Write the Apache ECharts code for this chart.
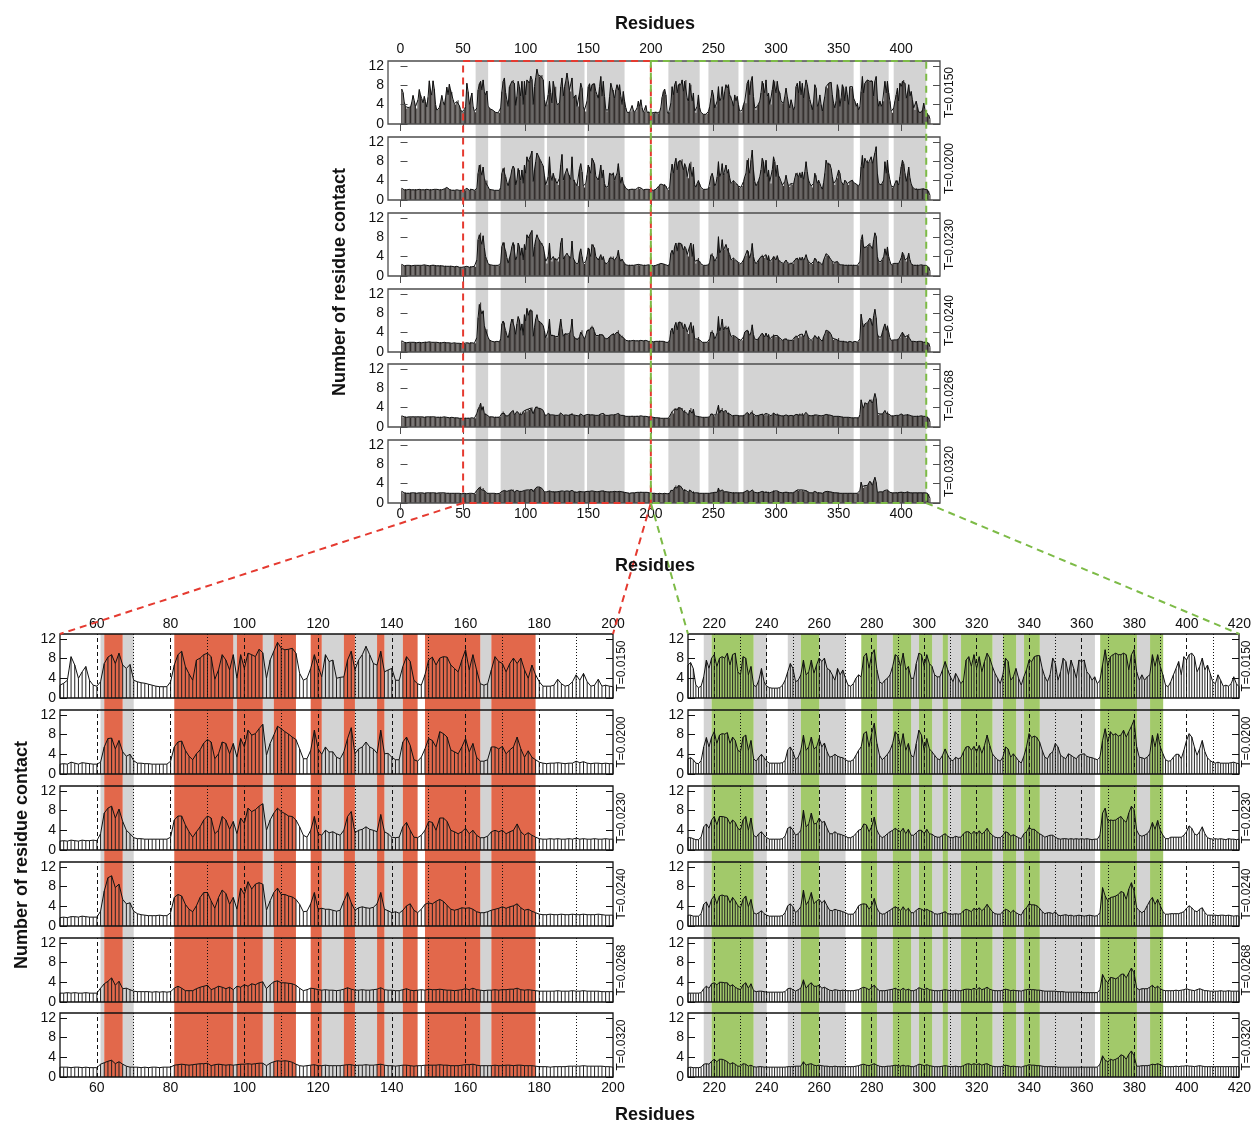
<!DOCTYPE html>
<html>
<head>
<meta charset="utf-8">
<script src="https://cdn.jsdelivr.net/npm/echarts@6/dist/echarts.min.js"></script>
<style>
  html, body { margin: 0; padding: 0; background: #fff; }
  #main { width: 1254px; height: 1124px; }
</style>
</head>
<body>
<div id="main"></div>
<script>
// contacts per residue, residues 1..423, one array per temperature
const t0150 = [
  7.2,6.5,4.5,3.6,3.2,3.4,3.3,3.5,4.5,5.9, 4.8,3.6,3.2,5.0,7.1,6.0,5.2,4.3,5.7,4.6,
  3.5,5.5,8.9,7.0,5.9,8.9,7.2,4.0,2.8,3.0, 3.4,4.5,5.9,4.6,3.9,5.5,7.6,6.0,8.2,7.0,
  6.6,5.0,4.2,4.0,4.6,4.9,3.8,3.0,2.5,2.6, 3.0,3.6,8.4,6.7,4.0,5.3,6.4,3.6,2.6,2.4,
  3.3,7.0,8.3,8.8,7.0,9.1,6.7,6.0,6.8,3.6, 3.3,3.1,3.0,2.8,2.6,2.4,2.3,2.3,2.3,3.3,
  6.7,8.8,9.5,6.4,4.9,3.6,7.7,8.1,8.8,9.1, 8.4,3.8,5.7,8.8,7.7,5.7,8.8,4.0,8.8,6.0,
  9.1,8.8,8.4,9.9,9.2,4.0,7.7,9.5,11.3,10.1, 9.8,9.9,10.1,9.1,5.0,3.6,4.0,6.0,8.8,6.4,
  4.3,8.8,7.4,7.7,4.0,4.2,4.3,7.7,9.5,5.7, 7.7,8.8,10.5,8.8,7.0,6.7,9.5,5.3,5.7,6.0,
  3.6,3.6,6.4,8.4,7.4,3.6,2.9,2.6,4.7,7.7, 8.3,6.7,8.1,8.4,8.3,6.7,6.0,5.3,7.7,9.8,
  5.7,8.8,5.7,2.9,2.6,2.9,5.7,8.4,7.4,7.0, 5.3,7.0,8.1,7.0,8.1,5.7,4.0,6.7,4.7,3.3,
  2.4,2.4,2.4,2.6,3.8,2.9,2.4,2.6,3.3,4.7, 3.6,5.0,3.3,2.4,2.6,3.8,2.4,2.6,2.4,2.3,
  2.3,2.2,2.4,2.6,2.3,2.2,2.5,3.4,5.5,6.7, 7.2,6.0,2.6,2.1,2.4,4.3,7.7,6.0,8.1,8.8,
  6.4,8.1,8.4,8.1,9.1,6.7,8.8,9.1,5.3,4.7, 8.4,8.1,4.7,6.4,2.6,2.3,3.6,6.0,3.3,2.4,
  2.1,2.0,2.0,2.0,2.1,2.6,3.6,5.3,7.0,6.0, 3.3,3.6,4.7,7.7,4.7,5.3,7.7,5.0,6.7,8.1,
  7.4,8.1,6.0,5.7,4.7,3.6,6.0,4.7,5.7,4.0, 2.6,2.4,2.9,4.0,4.7,4.3,8.4,9.1,6.0,8.8,
  9.8,5.7,3.3,2.9,3.6,4.0,4.7,6.4,8.8,8.4, 6.4,9.1,5.7,6.4,4.0,4.0,7.0,9.1,8.8,6.4,
  8.8,7.0,6.4,4.7,4.3,4.3,5.7,7.4,5.7,4.3, 3.3,5.0,4.0,2.9,3.6,7.7,8.4,6.4,8.8,6.0,
  8.4,5.3,7.4,9.1,8.1,6.4,5.0,4.0,2.9,4.7, 8.1,7.4,3.6,4.3,6.0,4.0,2.6,4.3,5.7,7.7,
  7.4,8.4,8.6,8.6,6.0,4.3,3.3,4.7,8.1,7.0, 3.6,5.3,8.1,7.4,4.7,7.7,6.0,4.0,7.7,7.4,
  7.7,5.3,4.7,3.6,4.3,2.9,3.6,6.7,9.8,6.4, 8.4,8.8,9.1,8.8,8.8,9.1,8.8,5.7,8.8,9.8,
  5.3,3.6,4.7,3.6,4.3,4.7,8.8,6.4,8.8,6.4, 4.7,2.6,2.3,3.3,4.7,6.0,7.4,4.7,8.4,7.7,
  8.8,9.1,8.4,5.3,6.4,8.1,5.7,6.7,5.0,3.3, 2.9,4.7,3.6,2.4,2.6,2.4,2.9,4.3,2.9,2.3,
  2.2,1.8,1.0
];
const t0200 = [
  2.4,2.1,2.1,2.2,2.1,2.1,2.2,2.1,2.1,2.2, 2.1,2.2,2.1,2.1,2.2,2.1,2.1,2.2,2.1,2.1,
  2.2,2.1,2.1,2.2,2.1,2.1,2.2,2.1,2.2,2.1, 2.1,2.2,2.1,2.2,2.3,2.4,2.6,2.4,2.2,2.1,
  2.0,2.1,2.0,2.0,2.1,2.0,2.0,2.0,2.0,2.0, 2.1,2.0,2.4,2.2,2.0,2.3,2.2,2.1,2.0,2.0,
  2.4,5.5,7.2,7.3,5.1,6.8,4.5,3.6,4.0,2.7, 2.2,2.2,2.1,2.1,2.0,2.0,2.0,2.0,2.0,2.6,
  5.5,6.5,6.7,4.8,3.6,2.9,4.1,4.9,6.3,7.0, 6.5,3.1,4.1,6.5,6.2,4.1,6.2,3.4,7.2,5.5,
  8.9,7.9,8.2,9.2,10.1,3.8,6.2,7.9,9.7,9.2, 8.6,8.1,7.5,7.0,5.1,3.1,3.1,4.8,8.9,5.1,
  4.0,5.5,4.5,4.5,3.4,3.1,4.5,7.2,9.4,4.1, 5.1,5.5,6.5,5.5,5.1,4.2,8.9,4.1,4.2,3.4,
  2.9,2.9,6.5,7.5,5.8,2.9,2.6,3.4,5.1,7.2, 6.8,5.5,8.6,8.2,7.5,4.9,4.5,4.1,5.5,7.2,
  4.5,6.2,3.4,2.6,2.6,2.9,5.5,5.5,5.1,5.6, 4.1,4.9,5.5,7.5,5.1,3.4,4.7,3.4,2.9,2.4,
  2.2,2.1,2.2,2.2,2.3,2.2,2.1,2.2,2.2,2.6, 2.3,2.5,2.2,2.1,2.2,2.2,2.1,2.2,2.1,2.1,
  2.0,2.0,2.1,2.2,2.4,2.8,3.2,3.3,3.1,3.1, 3.3,2.9,2.2,2.1,2.7,5.5,7.4,5.5,7.5,8.6,
  6.2,7.9,8.2,8.1,8.4,6.2,7.5,6.8,4.8,4.5, 7.5,7.9,4.8,6.8,3.1,2.6,3.4,4.0,3.3,2.6,
  2.2,2.2,2.2,2.2,2.2,2.3,2.7,4.9,5.5,4.5, 2.9,3.4,4.8,7.9,4.8,5.5,7.5,5.1,5.5,7.2,
  5.5,6.3,4.5,3.4,3.6,4.0,3.6,3.4,3.3,2.9, 2.6,2.6,2.9,3.8,4.8,5.5,8.2,8.6,5.5,8.2,
  10.3,6.2,3.8,2.9,3.4,4.0,4.8,6.2,8.6,7.9, 5.5,8.2,4.8,6.2,3.8,3.4,6.2,8.9,7.9,4.8,
  7.2,5.1,4.5,3.8,3.1,2.9,3.8,5.1,3.8,2.9, 2.7,3.4,3.1,3.3,4.5,5.5,5.6,4.8,5.6,4.5,
  5.8,4.2,5.8,7.9,5.8,4.1,3.4,2.9,2.6,3.4, 5.5,5.1,3.4,4.1,3.4,2.7,2.2,3.6,5.5,8.2,
  7.4,7.7,7.4,6.5,4.8,3.4,3.1,4.1,4.5,6.2, 5.5,3.8,3.4,3.1,4.1,3.8,3.4,3.1,3.8,4.0,
  4.1,3.6,3.4,3.3,3.1,2.9,3.4,6.8,9.2,6.5, 8.6,7.9,8.2,7.7,7.9,8.9,7.5,8.6,9.7,11.0,
  5.5,3.4,3.3,3.1,3.4,4.1,7.9,5.5,8.2,5.5, 4.1,2.9,2.6,2.7,3.4,4.0,4.0,3.1,4.8,6.8,
  8.2,7.5,5.5,3.8,5.1,6.8,4.5,3.3,2.7,2.4, 2.2,2.4,2.2,2.2,2.2,2.2,2.3,2.4,2.2,2.1,
  2.1,1.8,1.0
];
const t0230 = [
  2.4,2.1,2.1,2.2,2.2,2.1,2.2,2.2,2.1,2.2, 2.2,2.1,2.2,2.2,2.2,2.1,2.2,2.2,2.3,2.2,
  2.2,2.2,2.1,2.2,2.2,2.3,2.2,2.2,2.1,2.2, 2.1,2.2,2.1,2.1,2.0,2.1,2.0,2.0,2.0,2.1,
  2.0,1.9,1.9,1.9,2.0,1.9,1.8,1.8,1.8,1.8, 1.9,1.8,2.0,1.9,1.8,2.0,1.9,1.9,2.0,1.9,
  3.3,7.5,8.5,8.9,6.5,8.3,5.8,4.0,3.3,2.5, 2.3,2.3,2.2,2.2,2.2,2.2,2.2,2.2,2.2,2.6,
  6.1,6.9,6.9,5.1,3.7,2.6,3.7,4.7,6.1,6.9, 6.5,3.3,4.0,6.8,6.1,4.2,5.8,3.3,6.5,5.4,
  8.5,7.8,8.2,8.9,9.4,4.0,6.1,7.5,8.5,7.8, 7.4,6.9,6.8,6.1,4.7,3.0,2.6,4.0,6.8,3.3,
  3.0,4.0,3.5,3.7,3.3,3.0,4.0,6.8,7.8,3.5, 4.0,4.2,4.7,4.2,4.0,3.7,7.2,3.7,3.3,2.6,
  2.5,2.6,4.7,5.6,4.0,2.6,2.5,3.0,4.0,5.8, 5.6,4.0,6.5,6.5,5.8,4.0,3.7,3.3,3.7,4.4,
  3.3,4.0,3.0,2.5,2.5,2.8,3.7,4.0,3.7,4.0, 3.3,3.7,4.0,5.3,3.7,3.0,3.5,3.0,2.6,2.3,
  2.2,2.2,2.3,2.2,2.3,2.2,2.2,2.3,2.2,2.4, 2.2,2.3,2.2,2.2,2.3,2.2,2.2,2.3,2.2,2.2,
  2.1,2.1,2.2,2.2,2.3,2.4,2.5,2.6,2.5,2.5, 2.5,2.3,2.1,2.1,2.6,4.7,5.3,4.4,6.1,6.8,
  5.1,6.8,6.8,6.7,6.5,5.3,6.1,5.6,4.4,4.0, 6.1,6.8,4.0,6.5,3.0,2.6,3.3,3.7,3.0,2.5,
  2.2,2.2,2.2,2.2,2.2,2.3,2.8,4.4,4.7,4.0, 3.0,3.3,4.0,8.1,4.7,5.3,7.5,5.3,5.4,6.5,
  5.6,5.8,4.4,3.3,3.3,3.7,3.3,3.2,3.0,2.8, 2.5,2.5,2.8,3.3,4.0,4.2,5.3,5.1,3.7,4.7,
  6.7,4.0,3.0,2.5,2.8,3.3,3.7,4.0,4.4,4.0, 3.7,4.4,3.3,4.2,3.0,3.0,3.5,4.0,4.0,3.3,
  4.2,3.3,3.2,2.8,2.6,2.6,3.0,3.3,2.8,2.5, 2.5,2.8,2.6,2.6,3.3,3.7,3.7,3.2,3.8,3.2,
  3.9,3.2,3.7,4.4,3.5,3.0,2.6,2.5,2.5,3.0, 3.7,3.5,2.8,3.1,2.8,2.5,2.3,3.3,3.7,4.6,
  4.2,4.2,3.7,3.3,3.0,2.6,2.8,3.0,3.0,2.6, 2.3,2.2,2.3,2.3,2.2,2.3,2.2,2.3,2.2,2.3,
  2.2,2.3,2.2,2.1,2.2,2.2,3.0,7.5,8.5,5.8, 6.1,6.0,6.1,6.5,6.8,6.1,5.6,7.5,8.9,8.2,
  4.0,3.0,2.8,3.0,3.3,4.0,5.6,4.2,6.0,4.0, 3.0,2.3,2.3,2.6,2.6,2.6,2.6,2.6,3.0,3.7,
  4.9,4.4,3.3,3.0,3.7,4.7,3.3,2.5,2.3,2.2, 2.3,2.2,2.3,2.2,2.1,2.3,2.2,2.2,2.1,2.2,
  2.0,1.8,1.0
];
const t0240 = [
  2.3,1.9,2.0,2.0,1.9,2.0,2.0,1.9,2.0,2.0, 2.0,2.0,1.9,2.0,2.0,2.0,1.9,2.0,2.0,2.1,
  2.0,2.0,2.1,2.0,2.0,2.0,2.0,1.9,2.0,2.0, 1.9,2.0,1.9,1.9,2.0,1.9,1.9,1.9,1.9,1.8,
  1.8,1.8,1.9,1.8,1.8,1.8,1.8,1.7,1.7,1.7, 1.8,1.7,1.9,1.9,1.8,2.0,1.9,1.8,1.8,1.8,
  3.0,7.1,9.8,10.2,7.8,8.5,5.4,4.5,4.7,3.0, 2.5,2.3,2.2,2.1,2.1,2.1,2.2,2.1,2.1,2.7,
  5.8,6.4,6.1,4.4,3.4,2.9,4.1,5.8,6.8,6.8, 5.1,3.6,5.8,7.3,6.6,4.4,5.8,3.4,7.7,6.4,
  9.0,7.5,8.5,8.8,8.5,3.2,5.1,6.8,7.7,6.4, 6.4,6.1,5.9,5.4,4.4,2.9,3.0,4.5,6.8,3.4,
  3.6,3.4,3.4,3.2,3.0,3.2,5.1,6.8,4.7,3.2, 3.7,3.9,3.7,3.6,3.8,4.5,6.8,3.4,3.1,2.7,
  2.9,2.6,3.2,4.1,4.5,3.2,2.7,3.4,4.4,4.7, 4.5,5.0,5.4,5.0,4.2,3.4,3.2,3.4,3.7,3.6,
  3.7,3.4,2.9,2.7,2.7,2.9,3.2,3.4,3.6,3.9, 3.6,3.9,4.1,4.5,3.7,3.2,3.4,3.0,2.7,2.4,
  2.3,2.3,2.4,2.3,2.3,2.4,2.3,2.3,2.4,2.3, 2.3,2.4,2.3,2.3,2.3,2.4,2.3,2.2,2.2,2.2,
  2.1,2.1,2.1,2.2,2.2,2.2,2.3,2.2,2.2,2.2, 2.2,2.0,2.0,2.0,2.5,4.4,4.9,3.7,5.4,6.1,
  4.5,6.1,6.3,6.1,6.1,4.7,5.8,5.1,4.1,3.7, 5.4,6.1,3.9,5.4,2.7,2.4,2.7,3.1,2.5,2.2,
  2.0,2.0,2.0,2.0,2.0,2.1,2.7,4.1,4.5,3.9, 2.7,3.2,3.9,7.3,4.3,5.1,6.8,4.5,5.1,5.4,
  4.7,5.2,4.1,3.2,3.1,3.4,3.2,3.1,2.9,2.7, 2.4,2.4,2.4,3.1,4.1,4.4,4.5,4.4,3.4,4.1,
  5.6,3.6,2.7,2.4,2.5,2.9,3.2,3.6,3.9,3.6, 3.1,3.9,3.1,3.6,2.7,2.7,3.2,3.6,3.4,3.1,
  3.4,3.1,2.9,2.5,2.4,2.5,2.7,2.9,2.5,2.4, 2.4,2.5,2.4,2.5,3.1,3.4,3.2,2.9,3.6,3.2,
  3.7,3.1,3.6,4.4,3.6,2.9,2.5,2.4,2.4,2.9, 3.4,3.2,2.7,3.2,2.7,2.4,2.2,3.2,3.7,4.5,
  4.3,4.3,4.1,3.6,2.9,2.5,2.7,2.7,2.5,2.9, 2.2,2.1,2.2,2.3,2.1,2.2,2.0,2.1,2.2,2.1,
  2.0,2.1,2.2,2.1,2.0,2.1,2.7,7.8,6.1,5.1, 5.8,5.9,6.1,6.4,7.0,6.8,5.4,7.5,8.8,7.1,
  3.7,3.1,2.7,3.1,4.1,5.1,5.8,4.4,5.4,4.1, 2.9,2.4,2.4,2.5,2.5,2.5,2.5,2.7,2.9,3.6,
  4.1,3.7,3.1,2.9,3.4,3.7,2.7,2.2,2.2,2.2, 2.2,2.1,2.2,2.2,2.1,2.2,2.1,2.0,2.1,2.0,
  2.0,1.8,1.0
];
const t0268 = [
  2.3,2.0,2.1,2.1,2.0,2.1,2.1,2.0,2.1,2.1, 2.1,2.0,2.1,2.1,2.1,2.0,2.1,2.1,2.0,2.1,
  2.1,2.0,2.1,2.1,2.1,2.0,2.1,2.0,2.0,2.1, 2.0,2.1,2.0,2.0,2.1,2.0,2.0,2.0,1.9,2.0,
  2.0,1.9,1.9,1.9,1.9,1.9,1.8,1.8,1.8,1.8, 1.8,1.9,1.8,1.9,1.8,1.8,1.9,1.8,1.8,1.8,
  2.8,3.7,4.2,4.9,3.4,4.2,2.7,2.8,2.5,2.2, 2.1,2.1,2.1,2.1,2.0,2.1,2.0,2.1,2.0,2.1,
  2.8,3.2,2.8,2.3,2.3,2.3,2.7,3.0,3.2,3.4, 2.5,2.8,3.2,3.0,2.7,3.0,2.5,3.2,3.0,3.5,
  3.2,3.7,3.5,3.9,4.1,2.7,3.5,4.1,4.3,3.9, 3.9,3.8,3.7,3.4,2.8,2.3,2.5,2.8,2.7,2.5,
  2.4,2.5,2.4,2.4,2.3,2.4,2.6,2.9,2.6,2.4, 2.4,2.5,2.4,2.4,2.5,2.6,2.9,2.5,2.4,2.4,
  2.3,2.3,2.5,2.7,2.4,2.3,2.4,2.5,2.4,2.6, 2.5,2.5,2.6,2.5,2.4,2.4,2.3,2.4,2.5,2.7,
  2.5,2.8,2.5,2.4,2.3,2.4,2.4,2.5,2.4,2.5, 2.5,2.6,2.6,2.8,2.5,2.4,2.5,2.4,2.3,2.2,
  2.2,2.2,2.2,2.2,2.3,2.2,2.2,2.2,2.3,2.2, 2.2,2.3,2.2,2.2,2.2,2.2,2.1,2.1,2.1,2.1,
  2.0,2.0,2.0,1.9,1.9,1.9,1.9,1.8,1.8,1.8, 1.8,1.8,1.8,1.8,1.9,2.7,3.2,2.8,3.7,3.9,
  3.5,4.0,4.0,3.9,3.9,3.2,3.5,3.0,2.7,2.5, 3.5,3.9,2.8,3.7,2.3,2.1,2.2,2.2,2.1,2.0,
  2.0,2.0,2.0,2.0,2.0,2.0,2.1,2.7,2.8,2.5, 2.2,2.5,2.8,4.5,2.8,3.5,3.9,3.2,3.2,3.4,
  2.8,3.0,2.7,2.4,2.3,2.5,2.4,2.3,2.4,2.3, 2.3,2.3,2.3,2.4,2.5,2.8,3.0,2.8,2.5,3.0,
  3.4,2.7,2.3,2.3,2.3,2.4,2.5,2.6,2.8,2.5, 2.4,2.8,2.4,2.6,2.3,2.3,2.5,2.9,2.7,2.5,
  2.8,2.5,2.4,2.3,2.3,2.3,2.4,2.5,2.4,2.3, 2.3,2.4,2.3,2.3,2.5,2.6,2.6,2.5,2.8,2.5,
  2.9,2.5,2.7,3.0,2.6,2.4,2.3,2.3,2.3,2.4, 2.6,2.5,2.3,2.4,2.3,2.3,2.2,2.4,2.5,2.6,
  2.5,2.5,2.4,2.4,2.3,2.2,2.2,2.2,2.2,2.2, 2.1,2.1,2.1,2.0,2.0,2.0,2.0,2.0,2.0,1.9,
  1.9,1.9,1.9,1.9,1.9,1.9,2.5,5.6,4.5,3.9, 5.0,4.9,4.7,5.0,5.6,5.7,4.9,5.9,6.9,5.9,
  2.8,2.5,2.7,2.7,2.7,3.0,3.4,2.8,3.2,2.7, 2.4,2.3,2.3,2.3,2.3,2.4,2.3,2.4,2.5,2.7,
  2.5,2.4,2.3,2.5,2.7,2.5,2.3,2.3,2.2,2.2, 2.2,2.2,2.3,2.2,2.2,2.3,2.2,2.2,2.2,2.2,
  2.1,1.8,1.0
];
const t0320 = [
  2.4,2.0,2.1,2.1,2.0,2.1,2.0,2.1,2.1,2.0, 2.1,2.1,2.0,2.1,2.1,2.0,2.1,2.1,2.0,2.1,
  2.1,2.0,2.1,2.1,2.1,2.0,2.1,2.1,2.0,2.1, 2.1,2.0,2.1,2.0,2.1,2.0,2.0,2.1,2.0,2.0,
  2.0,2.0,2.0,2.0,2.0,1.9,2.0,1.9,1.9,2.0, 2.0,2.0,1.9,2.0,2.0,1.9,2.0,1.9,1.9,1.9,
  2.6,2.9,3.2,3.4,2.7,3.1,2.6,2.2,2.0,2.0, 2.0,1.9,2.0,1.9,2.0,2.0,1.9,2.0,2.0,2.0,
  2.4,2.5,2.6,2.5,2.4,2.5,2.6,2.7,2.7,2.8, 2.3,2.5,2.6,2.5,2.4,2.5,2.4,2.5,2.6,2.6,
  2.7,2.6,2.7,2.8,2.8,2.3,2.8,3.1,3.3,3.2, 3.3,3.2,3.0,2.6,2.3,2.2,2.3,2.4,2.5,2.3,
  2.3,2.4,2.3,2.3,2.3,2.3,2.4,2.5,2.5,2.3, 2.4,2.4,2.5,2.4,2.4,2.5,2.6,2.4,2.3,2.3,
  2.2,2.3,2.4,2.4,2.3,2.2,2.3,2.3,2.4,2.4, 2.4,2.4,2.5,2.4,2.4,2.3,2.3,2.3,2.4,2.5,
  2.5,2.6,2.4,2.3,2.3,2.3,2.3,2.4,2.3,2.3, 2.4,2.4,2.3,2.4,2.4,2.3,2.3,2.3,2.2,2.1,
  2.1,2.1,2.0,2.1,2.1,2.1,2.1,2.2,2.2,2.2, 2.2,2.3,2.2,2.2,2.2,2.2,2.2,2.1,2.1,2.0,
  2.0,2.0,2.0,1.9,1.9,1.9,2.0,1.9,1.9,1.9, 2.0,1.9,1.9,1.9,2.0,2.6,2.7,2.6,3.2,3.6,
  3.1,3.6,3.6,3.4,3.1,2.6,2.9,2.6,2.2,2.2, 2.7,2.6,2.2,2.4,2.1,2.0,2.1,2.1,2.0,2.0,
  2.0,2.0,2.0,2.0,2.0,2.0,2.0,2.1,2.1,2.1, 2.2,2.2,2.2,3.1,2.4,2.6,2.7,2.4,2.3,2.4,
  2.3,2.2,2.2,2.1,2.1,2.2,2.1,2.1,2.1,2.1, 2.1,2.1,2.1,2.2,2.3,2.5,2.6,2.4,2.3,2.5,
  2.7,2.4,2.2,2.1,2.1,2.2,2.2,2.3,2.4,2.3, 2.2,2.4,2.2,2.3,2.1,2.1,2.3,2.6,2.5,2.3,
  2.5,2.3,2.2,2.1,2.1,2.1,2.2,2.3,2.2,2.1, 2.1,2.2,2.1,2.1,2.3,2.6,2.7,2.5,2.7,2.5,
  2.7,2.4,2.6,2.7,2.4,2.2,2.1,2.1,2.1,2.2, 2.4,2.3,2.1,2.2,2.1,2.1,2.0,2.2,2.3,2.5,
  2.4,2.4,2.3,2.3,2.2,2.1,2.1,2.1,2.1,2.1, 2.0,2.0,2.0,2.0,2.0,2.0,2.0,2.0,2.0,2.0,
  2.0,2.0,2.0,2.0,2.0,2.0,2.6,4.3,3.4,3.1, 3.6,3.4,3.6,3.9,4.5,4.3,3.6,4.6,5.3,4.3,
  2.2,2.2,2.3,2.3,2.3,2.4,2.6,2.5,2.7,2.5, 2.2,2.1,2.1,2.1,2.1,2.2,2.1,2.2,2.2,2.3,
  2.2,2.2,2.1,2.2,2.3,2.2,2.1,2.1,2.1,2.1, 2.1,2.1,2.1,2.1,2.1,2.1,2.1,2.1,2.1,2.1,
  2.0,1.8,1.0
];
const contacts = [t0150, t0200, t0230, t0240, t0268, t0320];
const temps = ['T=0.0150', 'T=0.0200', 'T=0.0230', 'T=0.0240', 'T=0.0268', 'T=0.0320'];

// tick labels
const topLabels = [0, 50, 100, 150, 200, 250, 300, 350, 400];
const leftLabels = [60, 80, 100, 120, 140, 160, 180, 200];
const rightLabels = [220, 240, 260, 280, 300, 320, 340, 360, 380, 400, 420];
const yLabels = [0, 4, 8, 12];

// shaded residue ranges
const topGrey = [[60, 70], [80, 115], [117, 147], [149, 179], [214, 239], [246, 270], [274, 362], [367, 390], [394, 420]];
const leftGrey = [[61, 62], [67, 70], [97, 98], [105, 108], [121, 127], [130, 136], [138, 143], [164, 167]];
const leftRed = [[62, 67], [81, 97], [98, 105], [108, 114], [118, 121], [127, 130], [136, 138], [143, 147], [149, 164], [167, 179]];
const rightGrey = [[216, 219], [235, 240], [248, 253], [260, 270], [282, 288], [295, 298], [303, 307], [309, 314], [326, 330], [335, 338], [344, 365], [381, 386]];
const rightGreen = [[219, 235], [253, 260], [276, 282], [288, 295], [298, 303], [307, 309], [314, 326], [330, 335], [338, 344], [367, 381], [386, 391]];

// reference lines in the zoomed panels
const leftMajor = [60, 80, 100, 120, 140, 160, 180];
const leftMinor = [70, 90, 110, 130, 150, 170, 190];
const rightMajor = [220, 240, 260, 280, 300, 320, 340, 360, 380, 400];
const rightMinor = [230, 250, 270, 290, 310, 330, 350, 370, 390, 410];

const font = '"Liberation Sans", Arial, sans-serif';
const GREY = '#d3d3d3';

const panels = [
  { left: 388, width: 552, tops: [61, 137, 213, 289, 364, 440], h: 63, min: -10, max: 431, from: 1, to: 423,
    labels: topLabels, ticks: topLabels, bands: [[topGrey, GREY]], major: [], minor: [],
    frame: '#4d4d4d', barW: 0.75, barColor: '#2b2624', tGap: 4, topMargin: 5 },
  { left: 60, width: 553, tops: [634, 710, 786, 862, 938, 1013], h: 64, min: 50, max: 200, from: 50, to: 200,
    labels: leftLabels, ticks: null, bands: [[leftGrey, GREY], [leftRed, '#e2684b']], major: leftMajor, minor: leftMinor,
    frame: '#111', barW: 1, barColor: '#222', tGap: 3, topMargin: 3 },
  { left: 688, width: 552, tops: [634, 710, 786, 862, 938, 1013], h: 64, min: 210, max: 420, from: 210, to: 420,
    labels: rightLabels, ticks: null, bands: [[rightGrey, GREY], [rightGreen, '#a2c96a']], major: rightMajor, minor: rightMinor,
    frame: '#111', barW: 0.9, barColor: '#222', tGap: 2, topMargin: 3 }
];

const grid = [], xAxis = [], yAxis = [], series = [];
const bgAxis = [];

panels.forEach((p) => {
  const bottom = p.tops[5] + p.h;
  // background grid spanning all six rows: bands + outer tick labels
  const gi = grid.length;
  grid.push({ left: p.left, width: p.width, top: p.tops[0], height: bottom - p.tops[0], z: 0 });
  const xa = xAxis.length;
  bgAxis.push(xa);
  const lab = (margin) => ({ customValues: p.labels, margin, fontSize: 14, color: '#111', fontFamily: font });
  xAxis.push({ type: 'value', gridIndex: gi, position: 'top', min: p.min, max: p.max,
    axisLine: { show: false }, axisTick: { show: false }, splitLine: { show: false }, axisLabel: lab(p.topMargin) });
  xAxis.push({ type: 'value', gridIndex: gi, position: 'bottom', min: p.min, max: p.max,
    axisLine: { show: false }, axisTick: { show: false }, splitLine: { show: false }, axisLabel: lab(4) });
  const ya = yAxis.length;
  yAxis.push({ type: 'value', gridIndex: gi, min: 0, max: 1, show: false });
  p.bands.forEach(([ranges, color]) => {
    series.push({
      type: 'custom', xAxisIndex: xa, yAxisIndex: ya, z: 1, silent: true,
      data: ranges.map(r => [r[0], r[1], 0]),
      encode: { x: [0, 1], y: 2 },
      renderItem: (params, api) => {
        const a = api.coord([api.value(0), 0]);
        const b = api.coord([api.value(1), 1]);
        return { type: 'rect', shape: { x: a[0], y: b[1], width: b[0] - a[0], height: a[1] - b[1] }, style: { fill: color } };
      }
    });
  });

  p.tops.forEach((top, row) => {
    const g = grid.length;
    grid.push({ left: p.left, width: p.width, top, height: p.h, show: true, backgroundColor: 'transparent',
      borderColor: p.frame, borderWidth: 1.3, z: 3 });
    const xi = xAxis.length;
    xAxis.push({ type: 'value', gridIndex: g, position: 'top', min: p.min, max: p.max, z: 4,
      axisLine: { show: false }, splitLine: { show: false }, axisLabel: { show: false },
      axisTick: p.ticks ? { show: true, inside: true, length: 7, customValues: p.ticks, lineStyle: { color: p.frame } } : { show: false } });
    const yl = yAxis.length;
    yAxis.push({ type: 'value', gridIndex: g, min: 0, max: 13, z: 4,
      axisLine: { show: false }, splitLine: { show: false },
      axisTick: { inside: true, length: 7, customValues: yLabels, lineStyle: { color: p.frame } },
      axisLabel: { customValues: yLabels, margin: 4, fontSize: 14, color: '#111', fontFamily: font } });
    yAxis.push({ type: 'value', gridIndex: g, position: 'right', min: 0, max: 13, z: 4,
      axisLine: { show: false }, splitLine: { show: false },
      axisTick: { inside: true, length: 7, customValues: yLabels, lineStyle: { color: p.frame } },
      axisLabel: { show: false },
      name: temps[row], nameLocation: 'middle', nameRotate: 90, nameGap: p.tGap,
      nameTextStyle: { fontSize: 12, color: '#111', fontFamily: font } });

    const pts = [];
    contacts[row].forEach((v, i) => {
      const r = i + 1;
      if (r >= p.from && r <= p.to) pts.push([r, v]);
    });
    series.push({ type: 'bar', xAxisIndex: xi, yAxisIndex: yl, data: pts, barWidth: p.barW, z: 2, silent: true,
      itemStyle: { color: p.barColor } });
    const line = { type: 'line', xAxisIndex: xi, yAxisIndex: yl, data: pts, symbol: 'none', z: 3, silent: true,
      lineStyle: { color: '#111', width: 1 } };
    if (p.major.length) {
      line.markLine = {
        silent: true, symbol: 'none', label: { show: false }, animation: false,
        lineStyle: { color: '#111', width: 1 },
        data: [
          ...p.major.map(v => ({ xAxis: v, lineStyle: { type: [4, 3], color: '#111', width: 1 } })),
          ...p.minor.map(v => ({ xAxis: v, lineStyle: { type: [1, 2], color: '#111', width: 1 } }))
        ]
      };
    }
    series.push(line);
  });
});

const myChart = echarts.init(document.getElementById('main'), null, { renderer: 'canvas' });
myChart.setOption({
  animation: false,
  backgroundColor: '#fff',
  grid, xAxis, yAxis, series
});

// overview boxes and connectors, positioned through the axes
const px = (axis, v) => myChart.convertToPixel({ xAxisIndex: axis }, v);
const pTop = panels[0], pL = panels[1], pR = panels[2];
const y0 = pTop.tops[0], y1 = pTop.tops[5] + pTop.h, y2 = pL.tops[0];
const RED = '#e53a30', GREEN = '#7dbb47';
const dash = (stroke) => ({ fill: 'none', stroke, lineWidth: 2, lineDash: [7, 5] });
const title = (text, x, y, rot) => ({ type: 'text', x, y, rotation: rot || 0, z: 60,
  style: { text, font: 'bold 18px ' + font, fill: '#111', align: 'center', verticalAlign: 'middle' } });

myChart.setOption({
  graphic: [
    { type: 'rect', z: 50, shape: { x: px(bgAxis[0], 50), y: y0, width: px(bgAxis[0], 200) - px(bgAxis[0], 50), height: y1 - y0 }, style: dash(RED) },
    { type: 'rect', z: 50, shape: { x: px(bgAxis[0], 200), y: y0, width: px(bgAxis[0], 420) - px(bgAxis[0], 200), height: y1 - y0 }, style: dash(GREEN) },
    { type: 'line', z: 50, shape: { x1: px(bgAxis[0], 50), y1: y1, x2: px(bgAxis[1], 50), y2: y2 }, style: dash(RED) },
    { type: 'line', z: 50, shape: { x1: px(bgAxis[0], 200), y1: y1, x2: px(bgAxis[1], 200), y2: y2 }, style: dash(RED) },
    { type: 'line', z: 50, shape: { x1: px(bgAxis[0], 200), y1: y1, x2: px(bgAxis[2], 210), y2: y2 }, style: dash(GREEN) },
    { type: 'line', z: 50, shape: { x1: px(bgAxis[0], 420), y1: y1, x2: px(bgAxis[2], 420), y2: y2 }, style: dash(GREEN) },
    title('Residues', 655, 24),
    title('Residues', 655, 566),
    title('Residues', 655, 1115),
    title('Number of residue contact', 340, 282, Math.PI / 2),
    title('Number of residue contact', 22, 855, Math.PI / 2)
  ]
});
</script>
</body>
</html>
